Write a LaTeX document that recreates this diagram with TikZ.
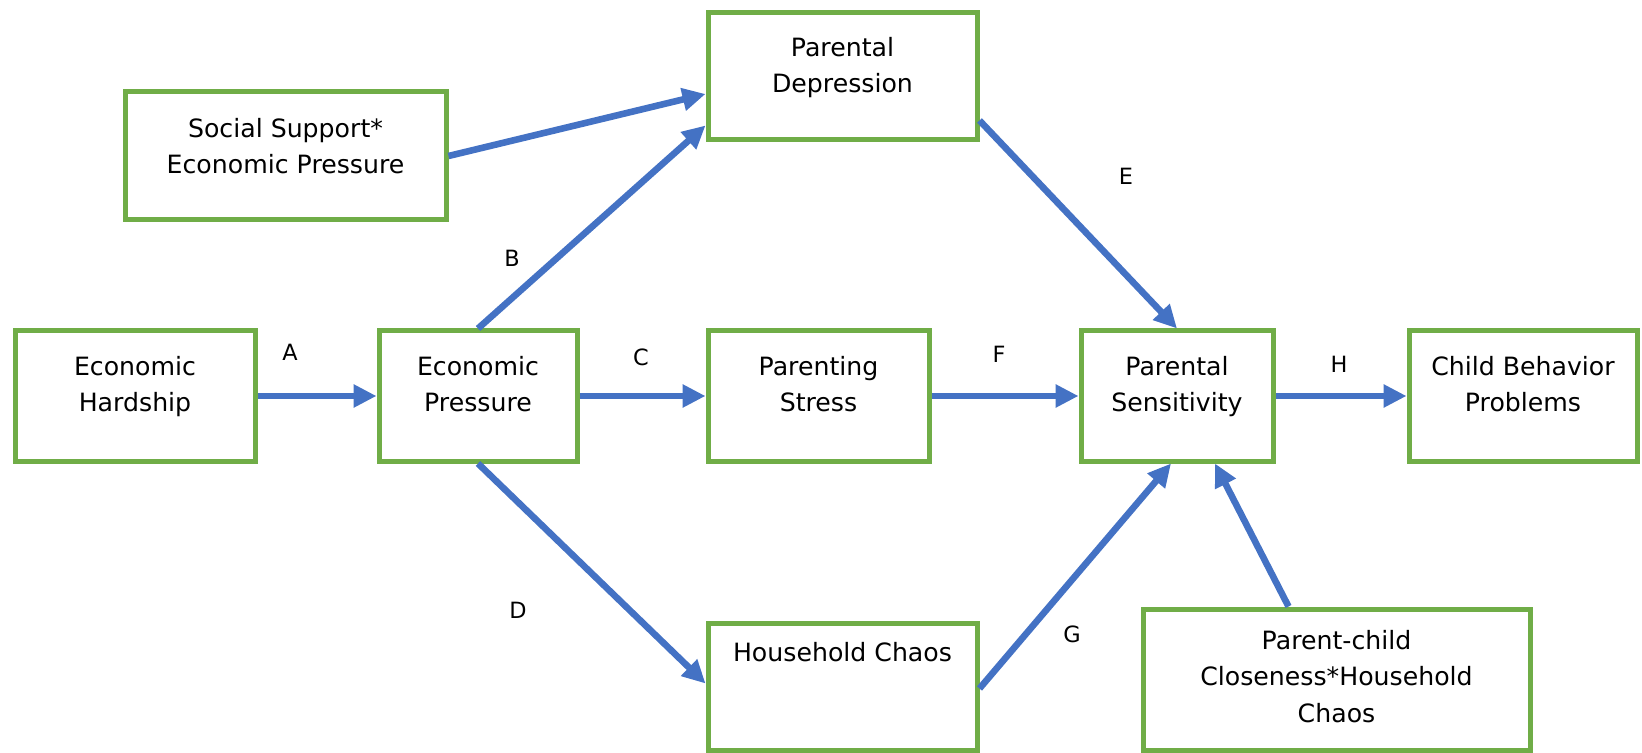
\documentclass[tikz,border=0pt]{standalone}
\usepackage{fontspec}
\setmainfont{DejaVu Sans}
\usetikzlibrary{arrows.meta,calc}
\definecolor{boxgreen}{HTML}{70AD47}
\definecolor{arrowblue}{HTML}{4472C4}
\begin{document}
\begin{tikzpicture}[x=0.5pt,y=-0.5pt,
 box/.style={draw=boxgreen, line width=2.5pt, rectangle, inner sep=0pt, fill=white},
 lbl/.style={font=\fontsize{12.6pt}{18.3pt}\selectfont, align=center, anchor=north, inner sep=0pt},
 conn/.style={draw=arrowblue, line width=3.3pt, -{Triangle[length=11.5pt,width=11pt]}},
 plbl/.style={font=\fontsize{11.2pt}{13pt}\selectfont, inner sep=0pt}
]
\useasboundingbox (0,0) rectangle (1642,753);

% boxes
\node[box, minimum width=120pt, minimum height=65pt] (eh) at (135,396) {};
\node[box, minimum width=99pt, minimum height=65pt] (ep) at (478,396) {};
\node[box, minimum width=110.5pt, minimum height=65pt] (pst) at (818.5,396) {};
\node[box, minimum width=96pt, minimum height=65pt] (psen) at (1177,396) {};
\node[box, minimum width=114pt, minimum height=65pt] (cb) at (1523,396) {};
\node[box, minimum width=134.5pt, minimum height=63.5pt] (pd) at (842.5,76.5) {};
\node[box, minimum width=160.5pt, minimum height=64pt] (ss) at (285.5,156) {};
\node[box, minimum width=134.5pt, minimum height=63.5pt] (hc) at (842.5,686.5) {};
\node[box, minimum width=193.5pt, minimum height=70.5pt] (pc) at (1336.5,679.5) {};

% box texts
\node[lbl] (eht) at ($(eh.north)+(0,27)$) {Economic\\Hardship};
\node[lbl] (ept) at ($(ep.north)+(0,27)$) {Economic\\Pressure};
\node[lbl] (pstt) at ($(pst.north)+(0,27)$) {Parenting\\Stress};
\node[lbl] (psent) at ($(psen.north)+(0,27)$) {Parental\\Sensitivity};
\node[lbl] (cbt) at ($(cb.north)+(0,27)$) {Child Behavior\\Problems};
\node[lbl] (pdt) at ($(pd.north)+(0,26)$) {Parental\\Depression};
\node[lbl] (sst) at ($(ss.north)+(0,28)$) {Social Support*\\Economic Pressure};
\node[lbl] (hct) at ($(hc.north)+(0,21)$) {Household Chaos};
\node[lbl] (pct) at ($(pc.north)+(0,23)$) {Parent-child\\Closeness*Household\\Chaos};

% connectors
\draw[conn] (eh.east) -- (ep.west);
\draw[conn] (ep.east) -- (pst.west);
\draw[conn] (pst.east) -- (psen.west);
\draw[conn] (psen.east) -- (cb.west);
\draw[conn] (ep.north) -- ($(pd.south west)+(0,-17)$);
\draw[conn] (ss.east) -- ($(pd.west)+(0,17.5)$);
\draw[conn] (ep.south) -- ($(hc.west)+(0,-3)$);
\draw[conn] ($(pd.south east)+(0,-22)$) -- (psen.north);
\draw[conn] ($(hc.east)+(0,2)$) -- ($(psen.south)+(-6,0)$);
\draw[conn] ($(pc.north)+(-48,0)$) -- ($(psen.south)+(38,0)$);

% path labels
\node[plbl] (la) at (290,352) {A};
\node[plbl] (lb) at (512,258) {B};
\node[plbl] (lc) at (641,357) {C};
\node[plbl] (ld) at (518,610) {D};
\node[plbl] (le) at (1126,176) {E};
\node[plbl] (lf) at (999,354) {F};
\node[plbl] (lg) at (1072,634) {G};
\node[plbl] (lh) at (1339,364) {H};
\end{tikzpicture}
\end{document}
